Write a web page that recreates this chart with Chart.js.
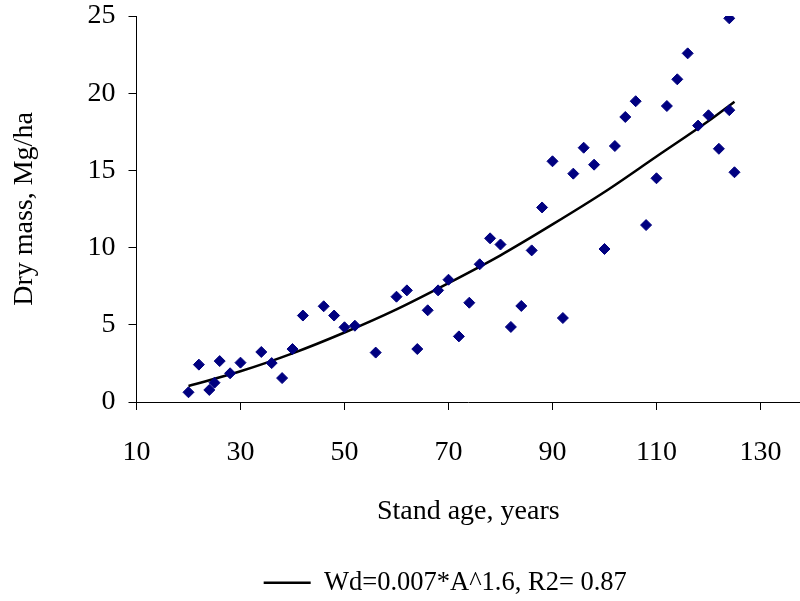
<!DOCTYPE html>
<html>
<head>
<meta charset="utf-8">
<script src="https://cdn.jsdelivr.net/npm/chart.js@4"></script>
<style>
  html, body { margin: 0; padding: 0; background: #fff; }
</style>
</head>
<body>
<canvas id="chart" width="800" height="601"></canvas>
<script>
// observed stands
const ages = [20, 22, 24, 25, 26, 28, 30, 34, 36, 38, 40, 42, 46, 48, 50, 52, 56, 60, 62, 64,
  66, 68, 70, 72, 74, 76, 78, 80, 82, 84, 86, 88, 90, 92, 94, 96, 98, 100, 102, 104,
  106, 108, 110, 112, 114, 116, 118, 120, 122, 124, 124, 125];
const dryMass = [0.63, 2.42, 0.78, 1.25, 2.65, 1.86, 2.55, 3.24, 2.52, 1.55, 3.43, 5.6, 6.2, 5.6, 4.84, 4.94, 3.2, 6.82, 7.23, 3.43,
  5.94, 7.23, 7.92, 4.25, 6.43, 8.92, 10.6, 10.2, 4.86, 6.22, 9.82, 12.6, 15.59, 5.44, 14.79, 16.47, 15.37, 9.91, 16.58, 18.46,
  19.48, 11.46, 14.49, 19.17, 20.9, 22.58, 17.9, 18.57, 16.4, 24.85, 18.9, 14.88];

// fitted curve
const trendAges = [20, 30, 40, 50, 60, 70, 80, 90, 100, 110, 120, 125];
const trendMass = [1.04, 1.99, 3.15, 4.5, 6.0, 7.7, 9.5, 11.5, 13.6, 15.9, 18.2, 19.45];
const trendLabel = 'Wd=0.007*A^1.6, R2= 0.87';

const xTicks = [10, 30, 50, 70, 90, 110, 130];
const yTicks = [0, 5, 10, 15, 20, 25];

const serif = 'Liberation Serif, Times New Roman, serif';

// the original legend sits a bit left of the plot centre
const legendShift = {
  id: 'legendShift',
  afterLayout(chart) {
    chart.legend.left -= 23;
    chart.legend.right -= 23;
  }
};

const ctx = document.getElementById('chart').getContext('2d');
new Chart(ctx, {
  type: 'scatter',
  data: {
    datasets: [
      {
        label: 'Observed',
        data: ages.map((a, i) => ({ x: a, y: dryMass[i] })),
        pointStyle: 'rectRot',
        pointRadius: 5.5,
        backgroundColor: '#000080',
        borderColor: '#000080',
        borderWidth: 1
      },
      {
        type: 'line',
        label: trendLabel,
        data: trendAges.map((a, i) => ({ x: a, y: trendMass[i] })),
        borderColor: '#000',
        backgroundColor: '#000',
        borderWidth: 2.5,
        pointRadius: 0,
        cubicInterpolationMode: 'monotone',
        fill: false
      }
    ]
  },
  plugins: [legendShift],
  options: {
    responsive: false,
    animation: false,
    devicePixelRatio: 1,
    layout: { autoPadding: false, padding: { top: 16, left: 0, right: 0, bottom: -5 } },
    plugins: {
      tooltip: { enabled: false },
      legend: {
        position: 'bottom',
        fullSize: false,
        labels: {
          filter: item => item.datasetIndex === 1,
          boxWidth: 47,
          boxHeight: 0,
          padding: 5,
          color: '#000',
          font: { family: serif, size: 26.5 }
        }
      }
    },
    scales: {
      x: {
        type: 'linear',
        min: 10,
        max: 137.6,
        afterBuildTicks: scale => { scale.ticks = xTicks.map(v => ({ value: v })); },
        afterFit: scale => {
          scale.height = 162.5;
          scale.paddingLeft = 0;
          scale.paddingRight = 0;
        },
        grid: { display: true, drawOnChartArea: false, tickLength: 8, color: '#000' },
        border: { display: true, color: '#000', width: 1 },
        ticks: {
          color: '#000',
          padding: 0,
          maxRotation: 0,
          font: { family: serif, size: 28, lineHeight: 3.036 }
        },
        title: {
          display: true,
          text: 'Stand age, years',
          color: '#000',
          padding: { top: 0, bottom: 36.2 },
          font: { family: serif, size: 28, lineHeight: 1.2 }
        }
      },
      y: {
        min: 0,
        max: 25,
        afterBuildTicks: scale => { scale.ticks = yTicks.map(v => ({ value: v })); },
        afterFit: scale => { scale.width = 136.5; },
        grid: { display: true, drawOnChartArea: false, tickLength: 8, color: '#000' },
        border: { display: true, color: '#000', width: 1 },
        ticks: {
          color: '#000',
          padding: 13,
          font: { family: serif, size: 28, lineHeight: 0.1 }
        },
        title: {
          display: true,
          text: 'Dry mass, Mg/ha',
          color: '#000',
          padding: { top: 8, bottom: 0 },
          font: { family: serif, size: 28, lineHeight: 1.2 }
        }
      }
    }
  }
});
</script>
</body>
</html>
